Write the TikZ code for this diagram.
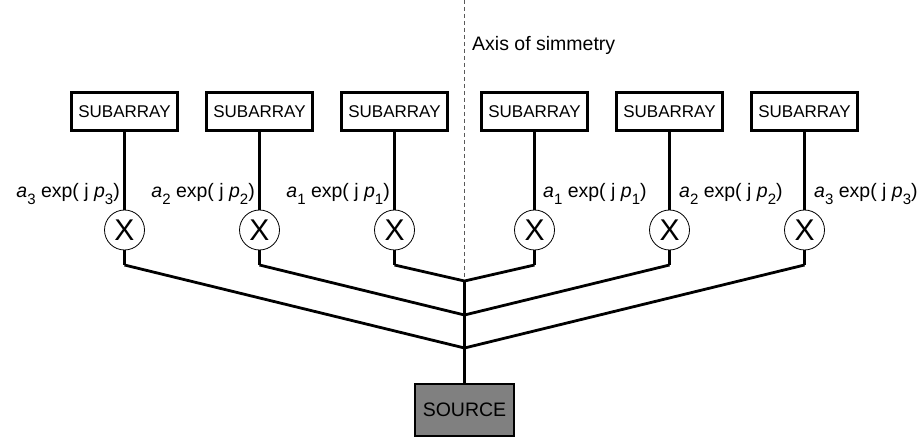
\documentclass[tikz,border=0pt]{standalone}
\usepackage{fontspec}
\setmainfont{Liberation Sans}
\newcommand\mysb[1]{\raisebox{-0.32em}{\fontsize{15}{15}\selectfont #1}}
\newcommand\lab[1]{\textit{a}\mysb{#1} exp( j \textit{p}\mysb{#1})}
\begin{document}
\begin{tikzpicture}[x=1pt,y=-1pt,
  subbox/.style={draw,line width=2.6pt,minimum width=106pt,minimum height=38pt,inner sep=0pt,font=\fontsize{17}{17}\selectfont},
  mulc/.style={draw,circle,line width=0.8pt,minimum size=40pt,inner sep=0pt,font=\fontsize{30}{30}\selectfont},
  feed/.style={line width=2.8pt},
  labf/.style={font=\fontsize{19.5}{20}\selectfont,inner sep=0pt},
  srcbox/.style={draw,line width=2.8pt,fill=gray,minimum width=99pt,minimum height=52pt,inner sep=0pt,font=\fontsize{19.5}{20}\selectfont}]
\useasboundingbox (0,0) rectangle (923,438);
\foreach \i/\x in {1/124.5,2/259.5,3/394.5,4/534.5,5/669.5,6/804.5}{
  \node[subbox] (sub\i) at (\x,111.5) {SUBARRAY};
  \node[mulc] (mul\i) at (\x,230) {X};
  \coordinate (b\i) at (\x,265);
}
\coordinate (j1) at (464.5,281);
\coordinate (j2) at (464.5,315);
\coordinate (j3) at (464.5,348);
\node[srcbox] (src) at (464.5,410) {SOURCE};
\draw[gray!70!black,line width=0.8pt,dash pattern=on 4pt off 3pt] (464.5,0) -- (j1);
\node[labf,anchor=base west] (axis) at (472,51) {Axis of simmetry};
\foreach \i in {1,...,6}{
  \draw[feed] (sub\i.south) -- (mul\i.north);
  \draw[feed] (mul\i.south) -- (b\i);
}
\draw[feed] (b3) -- (j1) -- (b4);
\draw[feed] (b2) -- (j2) -- (b5);
\draw[feed] (b1) -- (j3) -- (b6);
\draw[feed] (j1) -- (src.north);
\node[labf,anchor=base east] (l1) at (120,198) {\lab{3}};
\node[labf,anchor=base east] (l2) at (255,198) {\lab{2}};
\node[labf,anchor=base east] (l3) at (390,198) {\lab{1}};
\node[labf,anchor=base west] (l4) at (543,198) {\lab{1}};
\node[labf,anchor=base west] (l5) at (679,198) {\lab{2}};
\node[labf,anchor=base west] (l6) at (814,198) {\lab{3}};
\end{tikzpicture}
\end{document}
